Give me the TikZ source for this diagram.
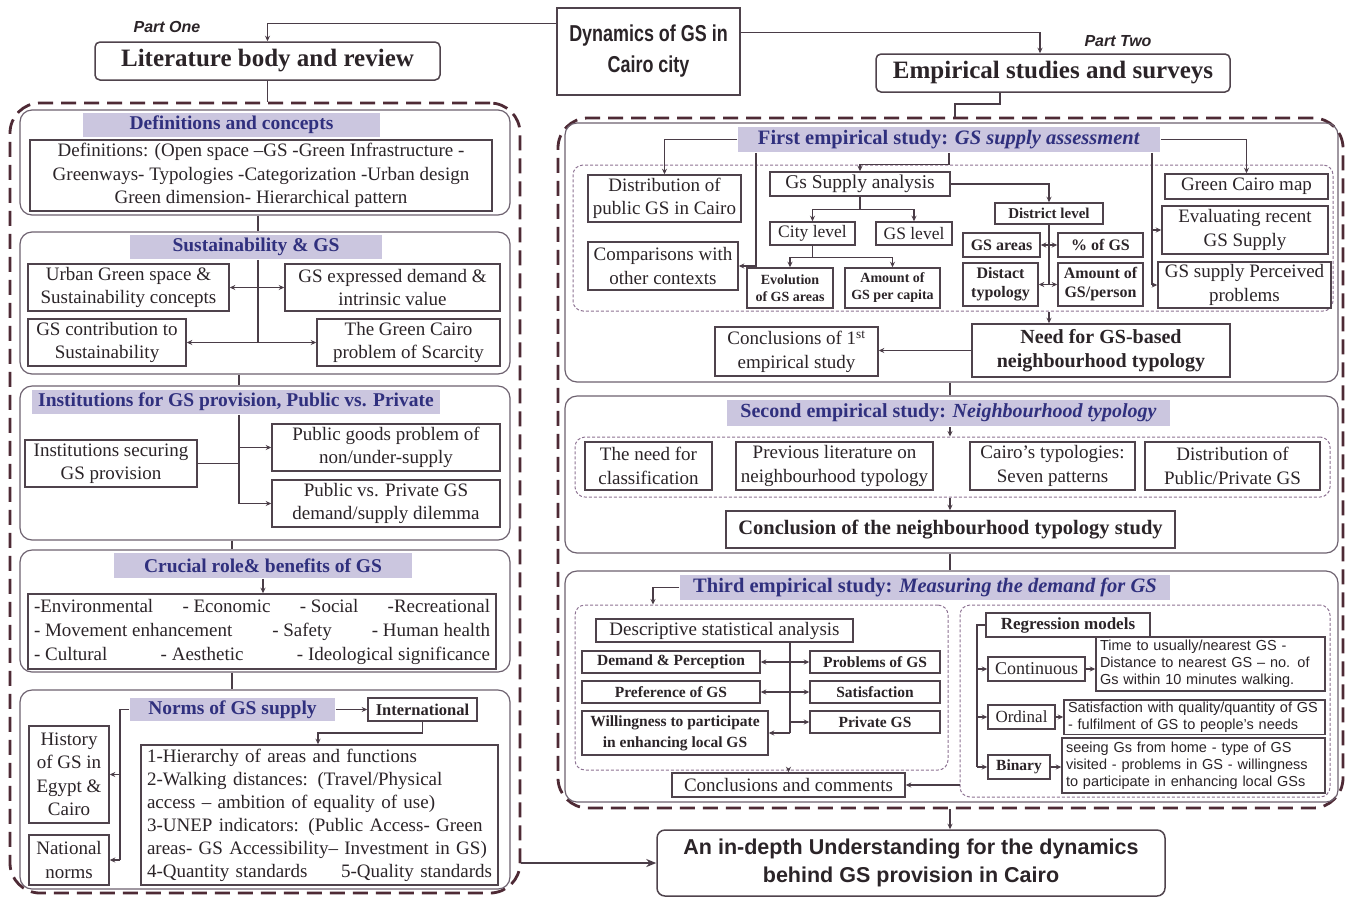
\documentclass[tikz,border=0pt]{standalone}
\usepackage{fontspec}
\setmainfont{Liberation Serif}
\setsansfont{Liberation Sans}
\usetikzlibrary{arrows.meta}

\definecolor{linec}{HTML}{4A3D47}
\definecolor{boxc}{HTML}{4F434C}
\definecolor{panelc}{HTML}{6E6270}
\definecolor{dashc}{HTML}{4E2A35}
\definecolor{dotc}{HTML}{8E7393}
\definecolor{bandc}{HTML}{CBC6DF}
\definecolor{headc}{HTML}{30307E}
\definecolor{textc}{HTML}{2B2428}

\newcommand{\fsz}[2]{\fontsize{#1}{#2}\selectfont}
% \gbox[options]{name}{x1}{y1}{x2}{y2}{text}: a node filling the given corners
\newcommand{\gbox}[7][]{%
  \pgfmathsetmacro{\gbW}{#5-#3}%
  \pgfmathsetmacro{\gbH}{#6-#4}%
  \pgfmathsetmacro{\gbX}{(#3+#5)/2}%
  \pgfmathsetmacro{\gbY}{(#4+#6)/2}%
  \node[bx,minimum width=\gbW pt,minimum height=\gbH pt,#1] (#2) at (\gbX,\gbY) {#7};}

\begin{document}
\begin{tikzpicture}[x=1pt,y=-1pt,
  bx/.style={draw=boxc,line width=1.5pt,fill=white,inner sep=2pt,align=center,text=textc,font=\fsz{19}{23.5}},
  panel/.style={draw=panelc,line width=1.2pt,rounded corners=12pt,fill=none},
  outer/.style={draw=dashc,line width=2.8pt,dash pattern=on 15pt off 8pt,rounded corners=30pt,fill=none},
  dotbox/.style={draw=dotc,line width=1pt,dash pattern=on 3pt off 2pt,rounded corners=10pt,fill=none},
  band/.style={draw=none,fill=bandc,text=headc,font=\fsz{19.5}{22}\bfseries},
  ttl/.style={rounded corners=5pt,font=\fsz{25}{28}\bfseries},
  small/.style={font=\fsz{14}{17}\bfseries},
  mid/.style={font=\fsz{16}{19}\bfseries},
  rtext/.style={align=left,font=\sffamily\fsz{14.5}{17}},
  ln/.style={draw=linec,line width=1.3pt},
  arr/.style={ln,-{Stealth[length=5.5pt,width=5pt]}},
  part/.style={font=\sffamily\bfseries\itshape\fsz{16}{18},text=textc}
]
\path[use as bounding box,fill=white] (0,0) rectangle (1348,898);

% ---------- top level ----------
\node[part] (p1) at (167,27) {Part One};
\node[part] (p2) at (1118,41) {Part Two};
\gbox[ttl]{litbox}{95}{42}{440}{80}{Literature body and review}
\gbox[font=\sffamily\bfseries\fsz{23}{31}]{dyn}{557}{8}{740}{95}{\scalebox{0.78}[1]{Dynamics of GS in}\\\scalebox{0.78}[1]{Cairo city}}
\gbox[ttl]{emp}{876}{54}{1230}{92}{Empirical studies and surveys}

% ---------- outer dashed frames ----------
\gbox[outer]{Lout}{10}{103}{520}{893}{}
\gbox[outer]{Rout}{558}{118}{1343}{808}{}

% ---------- Part One panels ----------
\gbox[panel]{P1}{20}{110}{510}{215}{}
\gbox[band]{B1}{83}{113}{380}{137}{Definitions and concepts}
\gbox{T1}{30}{140}{492}{211}{Definitions: (Open space --GS -Green Infrastructure -\\Greenways- Typologies -Categorization -Urban design\\Green dimension- Hierarchical pattern}

\gbox[panel]{P2}{20}{232}{510}{374}{}
\gbox[band]{B2}{130}{235}{382}{259}{Sustainability \& GS}
\gbox{sA}{28}{264}{229}{311}{Urban Green space \&\\Sustainability concepts}
\gbox{sB}{285}{264}{500}{311}{GS expressed demand \&\\intrinsic value}
\gbox{sC}{28}{319}{186}{366}{GS contribution to\\Sustainability}
\gbox{sD}{317}{319}{500}{366}{The Green Cairo\\problem of Scarcity}

\gbox[panel]{P3}{20}{386}{510}{540}{}
\gbox[band]{B3}{32}{390}{440}{414}{Institutions for GS provision, Public vs. Private}
\gbox{I}{25}{440}{197}{487}{Institutions securing\\GS provision}
\gbox{PG}{272}{424}{500}{471}{Public goods problem of\\non/under-supply}
\gbox{PvP}{272}{480}{500}{527}{Public vs. Private GS\\demand/supply dilemma}

\gbox[panel]{P4}{20}{550}{510}{672}{}
\gbox[band]{B4}{114}{553}{412}{578}{Crucial role\& benefits of GS}
\gbox[font=\fsz{19}{24}]{T4}{28}{594}{496}{669}{\hbox to 456pt{-Environmental\hfill- Economic\hfill- Social\hfill-Recreational}\\\hbox to 456pt{- Movement enhancement\hfill- Safety\hfill- Human health}\\\hbox to 456pt{- Cultural\hfill- Aesthetic\hfill- Ideological significance}}

\gbox[panel]{P5}{20}{690}{510}{889}{}
\gbox[band]{B5}{130}{698}{335}{721}{Norms of GS supply}
\gbox[font=\fsz{16.5}{19}\bfseries]{Intl}{368}{698}{477}{721}{International}
\gbox[align=left,text width=345pt,font=\fsz{19}{23}]{T5}{141}{745}{498}{885}{1-Hierarchy of areas and functions\\2-Walking distances: (Travel/Physical\\access -- ambition of equality of use)\\3-UNEP indicators: (Public Access- Green\\areas- GS Accessibility-- Investment in GS)\\\hbox to 345pt{4-Quantity standards\hfill 5-Quality standards}}
\gbox{Hist}{29}{726}{109}{823}{History\\of GS in\\Egypt \&\\Cairo}
\gbox{Nat}{29}{835}{109}{885}{National\\norms}

% ---------- Part Two: first study ----------
\gbox[panel]{R1}{565}{123}{1338}{382}{}
\gbox[dotbox]{dot1}{573}{165}{1333}{311}{}
\gbox[band,font=\fsz{20.5}{23}\bfseries]{BR1}{738}{127}{1160}{152}{First empirical study: \textit{GS supply assessment}}
\gbox{Dist}{588}{175}{741}{222}{Distribution of\\public GS in Cairo}
\gbox{Comp}{588}{242}{738}{290}{Comparisons with\\other contexts}
\gbox[font=\fsz{19.5}{22}]{GSA}{770}{172}{950}{196}{Gs Supply analysis}
\gbox[font=\fsz{17.5}{20}]{City}{770}{222}{855}{245}{City level}
\gbox[font=\fsz{17.5}{20}]{GSL}{876}{222}{952}{245}{GS level}
\gbox[small]{Evo}{747}{268}{833}{308}{Evolution\\of GS areas}
\gbox[small]{AmtC}{845}{268}{940}{308}{Amount of\\GS per capita}
\gbox[font=\fsz{15}{18}\bfseries]{DL}{995}{203}{1103}{224}{District level}
\gbox[mid]{GSar}{963}{233}{1040}{257}{GS areas}
\gbox[mid]{Pct}{1058}{233}{1143}{257}{\% of GS}
\gbox[mid]{Distact}{963}{263}{1038}{306}{Distact\\typology}
\gbox[mid]{AmtP}{1058}{263}{1143}{306}{Amount of\\GS/person}
\gbox{GCM}{1165}{174}{1328}{199}{Green Cairo map}
\gbox{Eval}{1162}{206}{1328}{254}{Evaluating recent\\GS Supply}
\gbox{Perc}{1158}{262}{1331}{308}{GS supply Perceived\\problems}
\gbox[font=\fsz{20}{24}\bfseries]{Need}{972}{324}{1230}{377}{Need for GS-based\\neighbourhood typology}
\gbox{Conc1}{715}{327}{878}{376}{Conclusions of 1\textsuperscript{st}\\empirical study}

% ---------- second study ----------
\gbox[panel]{R2}{565}{396}{1338}{553}{}
\gbox[dotbox]{dot2}{575}{437}{1330}{497}{}
\gbox[band,font=\fsz{20}{23}\bfseries]{BR2}{727}{400}{1170}{426}{Second empirical study: \textit{Neighbourhood typology}}
\gbox{N1}{585}{442}{712}{490}{The need for\\classification}
\gbox{N2}{736}{442}{933}{490}{Previous literature on\\neighbourhood typology}
\gbox{N3}{970}{442}{1135}{490}{Cairo's typologies:\\Seven patterns}
\gbox{N4}{1145}{442}{1320}{490}{Distribution of\\Public/Private GS}
\gbox[font=\fsz{20.5}{24}\bfseries]{Conc2}{726}{511}{1175}{548}{Conclusion of the neighbourhood typology study}

% ---------- third study ----------
\gbox[panel]{R3}{565}{571}{1338}{802}{}
\gbox[dotbox]{dot3L}{575}{605}{948}{770}{}
\gbox[dotbox]{dot3R}{960}{605}{1330}{797}{}
\gbox[band,font=\fsz{20.5}{23}\bfseries]{BR3}{680}{575}{1170}{600}{Third empirical study: \textit{Measuring the demand for GS}}
\gbox{Desc}{596}{619}{853}{642}{Descriptive statistical analysis}
\gbox[font=\fsz{15.5}{21}\bfseries]{Dem}{582}{651}{760}{673}{Demand \& Perception}
\gbox[font=\fsz{15.5}{21}\bfseries]{Prob}{810}{651}{940}{673}{Problems of GS}
\gbox[font=\fsz{15.5}{21}\bfseries]{Pref}{582}{681}{760}{703}{Preference of GS}
\gbox[font=\fsz{15.5}{21}\bfseries]{Sat}{810}{681}{940}{703}{Satisfaction}
\gbox[font=\fsz{15.5}{21}\bfseries]{Will}{582}{711}{768}{755}{Willingness to participate\\in enhancing local GS}
\gbox[font=\fsz{15.5}{21}\bfseries]{Priv}{810}{711}{940}{733}{Private GS}
\gbox[font=\fsz{19}{22}]{CC}{672}{773}{905}{797}{Conclusions and comments}
\gbox[font=\fsz{17}{20}\bfseries]{Reg}{986}{613}{1150}{637}{Regression models}
\gbox[font=\fsz{18}{20}]{Cont}{988}{657}{1085}{681}{Continuous}
\gbox[font=\fsz{17}{20}]{Ord}{988}{705}{1055}{729}{Ordinal}
\gbox[font=\fsz{15.5}{19}\bfseries]{Bin}{988}{755}{1050}{779}{Binary}
\gbox[rtext,text width=221pt]{RT1}{1096}{637}{1325}{691}{Time to usually/nearest GS -\\Distance to nearest GS -- no. of\\Gs within 10 minutes walking.}
\gbox[rtext,text width=253pt]{RT2}{1064}{700}{1325}{734}{Satisfaction with quality/quantity of GS\\- fulfilment of GS to people's needs}
\gbox[rtext,text width=255pt]{RT3}{1062}{738}{1325}{793}{seeing Gs from home - type of GS\\visited - problems in GS - willingness\\to participate in enhancing local GSs}

% ---------- final outcome ----------
\gbox[rounded corners=8pt,font=\sffamily\bfseries\fsz{21.5}{28}]{Final}{657}{830}{1165}{896}{An in-depth Understanding for the dynamics\\behind GS provision in Cairo}

% ---------- connectors: top ----------
\draw[arr] ([yshift=-16pt]dyn.north west) -| (litbox.north);
\draw[arr] ([yshift=-25pt]dyn.north east) -| ([xshift=-13pt]emp.north);
\draw[ln] (litbox.south) -- (litbox.south |- Lout.north);
\coordinate (rj) at (955,104);
\draw[ln] ([xshift=-53pt]emp.south) |- (rj) -- (rj |- Rout.north);

% ---------- connectors: Part One ----------
\coordinate (xa) at (258,0);
\coordinate (xb) at (239,0);
\coordinate (xc) at (232,0);
\coordinate (xh) at (120,0);
\draw[ln] (P1.south -| xa) -- (P2.north -| xa);
\draw[ln] (B2.south -| xa) -- (xa |- sC.east);
\draw[arr] (xa |- sA.east) -- (sA.east);
\draw[arr] (xa |- sB.west) -- (sB.west);
\draw[arr] (xa |- sC.east) -- (sC.east);
\draw[arr] (xa |- sD.west) -- (sD.west);
\draw[ln] (P2.south -| xb) -- (P3.north -| xb);
\draw[ln] (B3.south -| xb) -- (xb |- PvP.west);
\draw[ln] (I.east) -- (I.east -| xb);
\draw[arr] (xb |- PG.west) -- (PG.west);
\draw[arr] (xb |- PvP.west) -- (PvP.west);
\draw[ln] (P3.south -| xc) -- (P4.north -| xc);
\draw[arr] (B4.south) -- (B4.south |- T4.north);
\draw[ln] (P4.south -| xc) -- (P5.north -| xc);
\draw[arr] (B5.east) -- (Intl.west);
\coordinate (k5) at (318,733);
\draw[arr] (Intl.south) |- (k5) -- (k5 |- T5.north);
\draw[ln] (B5.west) -| (xh |- Nat.east);
\draw[arr] (xh |- Hist.east) -- (Hist.east);
\draw[arr] (xh |- Nat.east) -- (Nat.east);
\draw[ln,line width=2.2pt,-{Stealth[length=10pt,width=8pt]}] (Final.west -| Lout.east) -- (Final.west);

% ---------- connectors: Part Two ----------
\coordinate (xm) at (950,0);
\coordinate (xv1) at (756,0);
\coordinate (xv2) at (1152,0);
\coordinate (xd) at (790,0);
\coordinate (xr) at (977,0);
\coordinate (xt) at (653,0);
\draw[arr] (BR1.west) -| (Dist.north);
\draw[arr] (BR1.east) -| (GCM.north);
\draw[arr] (BR1.south -| xv1) |- (Comp.east);
\draw[ln] (BR1.south -| xv2) -- (xv2 |- Perc.west);
\draw[arr] (xv2 |- Eval.west) -- (Eval.west);
\draw[arr] (xv2 |- Perc.west) -- (Perc.west);
\draw[arr] (BR1.south) -- ++(0,12) -| (GSA.north);
\draw[arr] (GSA.east) -| (DL.north);
\draw[ln] (GSA.south) -- ++(0,13) coordinate (j3);
\draw[arr] (j3) -| (City.north);
\draw[arr] (j3) -| (GSL.north);
\draw[ln] (City.south) -- ++(0,12) coordinate (j4);
\draw[arr] (j4) -| (Evo.north);
\draw[arr] (j4) -| (AmtC.north);
\draw[ln] (DL.south) -- (DL.south |- AmtP.west);
\draw[arr] (DL.south |- GSar.east) -- (GSar.east);
\draw[arr] (DL.south |- Pct.west) -- (Pct.west);
\draw[arr] (DL.south |- Distact.east) -- (Distact.east);
\draw[arr] (DL.south |- AmtP.west) -- (AmtP.west);
\draw[arr] (dot1.south -| DL.south) -- (Need.north -| DL.south);
\draw[arr] (Need.west) -- (Need.west -| Conc1.east);
\draw[ln] (R1.south -| xm) -- (R2.north -| xm);
\draw[arr] (BR2.south -| xm) -- (dot2.north -| xm);
\draw[arr] (dot2.south -| xm) -- (Conc2.north -| xm);
\draw[ln] (R2.south -| xm) -- (R3.north -| xm);
\draw[arr] (BR3.west) -| (dot3L.north -| xt);
\draw[ln] (Desc.south -| xd) -- (xd |- Will.east);
\draw[arr] (xd |- Dem.east) -- (Dem.east);
\draw[arr] (xd |- Prob.west) -- (Prob.west);
\draw[arr] (xd |- Pref.east) -- (Pref.east);
\draw[arr] (xd |- Sat.west) -- (Sat.west);
\draw[arr] (xd |- Will.east) -- (Will.east);
\draw[arr] (xd |- Priv.west) -- (Priv.west);
\draw[arr] (dot3L.south -| CC.north) -- (CC.north);
\draw[arr] (dot3R.west |- CC.east) -- (CC.east);
\draw[ln] (Reg.west) -- (xr |- Reg.west) -- (xr |- Bin.west);
\draw[arr] (xr |- Cont.west) -- (Cont.west);
\draw[arr] (xr |- Ord.west) -- (Ord.west);
\draw[arr] (xr |- Bin.west) -- (Bin.west);
\draw[arr] (Cont.east) -- (Cont.east -| RT1.west);
\draw[arr] (Ord.east) -- (Ord.east -| RT2.west);
\draw[arr] (Bin.east) -- (Bin.east -| RT3.west);
\draw[arr] (Rout.south -| xm) -- (Final.north -| xm);
\end{tikzpicture}
\end{document}
